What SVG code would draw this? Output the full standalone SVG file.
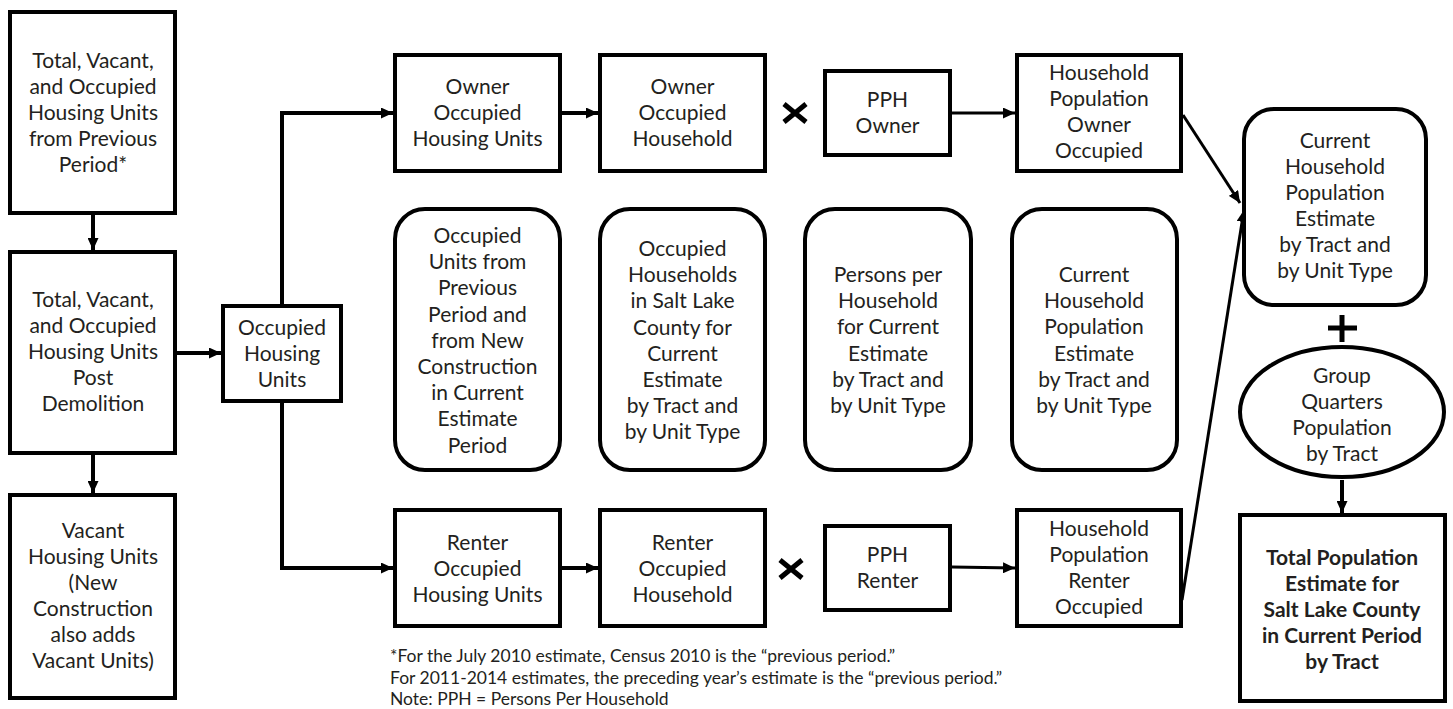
<svg xmlns="http://www.w3.org/2000/svg" width="1453" height="709" viewBox="0 0 1453 709">
<defs>
<style>
.box{fill:#fff;stroke:#000;stroke-width:4}
.t{font-family:Lato,"Liberation Sans",sans-serif;font-size:21px;fill:#231f20;text-anchor:middle}
.b{font-weight:bold}
.c{fill:none;stroke:#000;stroke-width:4}
.thin{stroke-width:3}
.op{fill:none;stroke:#000;stroke-width:5}
.fn{font-family:Lato,"Liberation Sans",sans-serif;font-size:17.5px;fill:#231f20}
</style>
<marker id="ah" markerUnits="userSpaceOnUse" markerWidth="12" markerHeight="11" refX="12" refY="5.5" orient="auto">
<path d="M0,0 L12,5.5 L0,11 z" fill="#000"/>
</marker>
</defs>
<rect width="1453" height="709" fill="#fff"/>

<g id="connectors">
<line class="c" x1="93" y1="215" x2="93" y2="250" marker-end="url(#ah)"/>
<line class="c" x1="93" y1="455" x2="93" y2="493" marker-end="url(#ah)"/>
<line class="c" x1="177" y1="353" x2="221" y2="353" marker-end="url(#ah)"/>
<path class="c" d="M282,304 V113 H393" marker-end="url(#ah)"/>
<path class="c" d="M282,403 V568 H393" marker-end="url(#ah)"/>
<line class="c" x1="562" y1="113" x2="598" y2="113" marker-end="url(#ah)"/>
<line class="c" x1="562" y1="568" x2="598" y2="568" marker-end="url(#ah)"/>
<line class="c thin" x1="952" y1="113" x2="1015" y2="113" marker-end="url(#ah)"/>
<line class="c thin" x1="952" y1="567" x2="1015" y2="568" marker-end="url(#ah)"/>
<line class="c thin" x1="1183" y1="115" x2="1240" y2="203" marker-end="url(#ah)"/>
<line class="c thin" x1="1182" y1="600" x2="1244" y2="210" marker-end="url(#ah)"/>
<line class="c" x1="1342" y1="480" x2="1342" y2="513" marker-end="url(#ah)"/>
</g>

<g id="operators">
<path class="op" d="M784,104 L806,122 M806,104 L784,122"/>
<path class="op" d="M780,560 L802,578 M802,560 L780,578"/>
<path class="op" d="M1328,328 H1357 M1342,315 V342"/>
</g>

<g id="n1">
<rect class="box" x="10" y="12" width="165" height="201"/>
<text class="t"><tspan x="93" y="68">Total, Vacant,</tspan><tspan x="93" y="94">and Occupied</tspan><tspan x="93" y="120">Housing Units</tspan><tspan x="93" y="146">from Previous</tspan><tspan x="93" y="172">Period*</tspan></text>
</g>
<g id="n2">
<rect class="box" x="10" y="252" width="165" height="201"/>
<text class="t"><tspan x="93" y="307">Total, Vacant,</tspan><tspan x="93" y="333">and Occupied</tspan><tspan x="93" y="359">Housing Units</tspan><tspan x="93" y="385">Post</tspan><tspan x="93" y="411">Demolition</tspan></text>
</g>
<g id="n3">
<rect class="box" x="10" y="495" width="165" height="203"/>
<text class="t"><tspan x="93" y="538">Vacant</tspan><tspan x="93" y="564">Housing Units</tspan><tspan x="93" y="590">(New</tspan><tspan x="93" y="616">Construction</tspan><tspan x="93" y="642">also adds</tspan><tspan x="93" y="668">Vacant Units)</tspan></text>
</g>
<g id="n4">
<rect class="box" x="223" y="306" width="118" height="95"/>
<text class="t"><tspan x="282" y="335">Occupied</tspan><tspan x="282" y="361">Housing</tspan><tspan x="282" y="387">Units</tspan></text>
</g>
<g id="n5">
<rect class="box" x="395" y="55" width="165" height="116"/>
<text class="t"><tspan x="477.5" y="94">Owner</tspan><tspan x="477.5" y="120">Occupied</tspan><tspan x="477.5" y="146">Housing Units</tspan></text>
</g>
<g id="n6">
<rect class="box" x="600" y="55" width="165" height="116"/>
<text class="t"><tspan x="682.5" y="94">Owner</tspan><tspan x="682.5" y="120">Occupied</tspan><tspan x="682.5" y="146">Household</tspan></text>
</g>
<g id="n7">
<rect class="box" x="825" y="71" width="125" height="84"/>
<text class="t"><tspan x="887.5" y="107">PPH</tspan><tspan x="887.5" y="133">Owner</tspan></text>
</g>
<g id="n8">
<rect class="box" x="1017" y="55" width="164" height="116"/>
<text class="t"><tspan x="1099" y="80">Household</tspan><tspan x="1099" y="106">Population</tspan><tspan x="1099" y="132">Owner</tspan><tspan x="1099" y="158">Occupied</tspan></text>
</g>
<g id="n9">
<rect class="box" x="1244" y="109" width="182" height="196" rx="30"/>
<text class="t"><tspan x="1335" y="148">Current</tspan><tspan x="1335" y="174">Household</tspan><tspan x="1335" y="200">Population</tspan><tspan x="1335" y="226">Estimate</tspan><tspan x="1335" y="252">by Tract and</tspan><tspan x="1335" y="278">by Unit Type</tspan></text>
</g>
<g id="m1">
<rect class="box" x="395" y="209" width="165" height="261" rx="30"/>
<text class="t"><tspan x="477.5" y="243">Occupied</tspan><tspan x="477.5" y="269.2">Units from</tspan><tspan x="477.5" y="295.4">Previous</tspan><tspan x="477.5" y="321.6">Period and</tspan><tspan x="477.5" y="347.8">from New</tspan><tspan x="477.5" y="374">Construction</tspan><tspan x="477.5" y="400.2">in Current</tspan><tspan x="477.5" y="426.4">Estimate</tspan><tspan x="477.5" y="452.6">Period</tspan></text>
</g>
<g id="m2">
<rect class="box" x="600" y="209" width="165" height="261" rx="30"/>
<text class="t"><tspan x="682.5" y="256">Occupied</tspan><tspan x="682.5" y="282.2">Households</tspan><tspan x="682.5" y="308.4">in Salt Lake</tspan><tspan x="682.5" y="334.6">County for</tspan><tspan x="682.5" y="360.8">Current</tspan><tspan x="682.5" y="387">Estimate</tspan><tspan x="682.5" y="413.2">by Tract and</tspan><tspan x="682.5" y="439.4">by Unit Type</tspan></text>
</g>
<g id="m3">
<rect class="box" x="805" y="209" width="166" height="261" rx="30"/>
<text class="t"><tspan x="888" y="282">Persons per</tspan><tspan x="888" y="308.2">Household</tspan><tspan x="888" y="334.4">for Current</tspan><tspan x="888" y="360.6">Estimate</tspan><tspan x="888" y="386.8">by Tract and</tspan><tspan x="888" y="413">by Unit Type</tspan></text>
</g>
<g id="m4">
<rect class="box" x="1012" y="209" width="165" height="261" rx="30"/>
<text class="t"><tspan x="1094" y="282">Current</tspan><tspan x="1094" y="308.2">Household</tspan><tspan x="1094" y="334.4">Population</tspan><tspan x="1094" y="360.6">Estimate</tspan><tspan x="1094" y="386.8">by Tract and</tspan><tspan x="1094" y="413">by Unit Type</tspan></text>
</g>
<g id="r1">
<rect class="box" x="395" y="510" width="165" height="116"/>
<text class="t"><tspan x="477.5" y="550">Renter</tspan><tspan x="477.5" y="576">Occupied</tspan><tspan x="477.5" y="602">Housing Units</tspan></text>
</g>
<g id="r2">
<rect class="box" x="600" y="510" width="165" height="116"/>
<text class="t"><tspan x="682.5" y="550">Renter</tspan><tspan x="682.5" y="576">Occupied</tspan><tspan x="682.5" y="602">Household</tspan></text>
</g>
<g id="r3">
<rect class="box" x="825" y="526" width="125" height="84"/>
<text class="t"><tspan x="887.5" y="562">PPH</tspan><tspan x="887.5" y="588">Renter</tspan></text>
</g>
<g id="r4">
<rect class="box" x="1017" y="510" width="164" height="116"/>
<text class="t"><tspan x="1099" y="536">Household</tspan><tspan x="1099" y="562">Population</tspan><tspan x="1099" y="588">Renter</tspan><tspan x="1099" y="614">Occupied</tspan></text>
</g>
<g id="gq">
<ellipse class="box" cx="1342" cy="412" rx="102" ry="65"/>
<text class="t"><tspan x="1342" y="383">Group</tspan><tspan x="1342" y="409">Quarters</tspan><tspan x="1342" y="435">Population</tspan><tspan x="1342" y="461">by Tract</tspan></text>
</g>
<g id="total">
<rect class="box" x="1240" y="515" width="205" height="186"/>
<text class="t b"><tspan x="1342" y="565">Total Population</tspan><tspan x="1342" y="591">Estimate for</tspan><tspan x="1342" y="617">Salt Lake County</tspan><tspan x="1342" y="643">in Current Period</tspan><tspan x="1342" y="669">by Tract</tspan></text>
</g>
<g id="footnote">
<text class="fn"><tspan x="390" y="662">*For the July 2010 estimate, Census 2010 is the “previous period.”</tspan><tspan x="390" y="684">For 2011-2014 estimates, the preceding year’s estimate is the “previous period.”</tspan><tspan x="390" y="705">Note: PPH = Persons Per Household</tspan></text>
</g>
</svg>
